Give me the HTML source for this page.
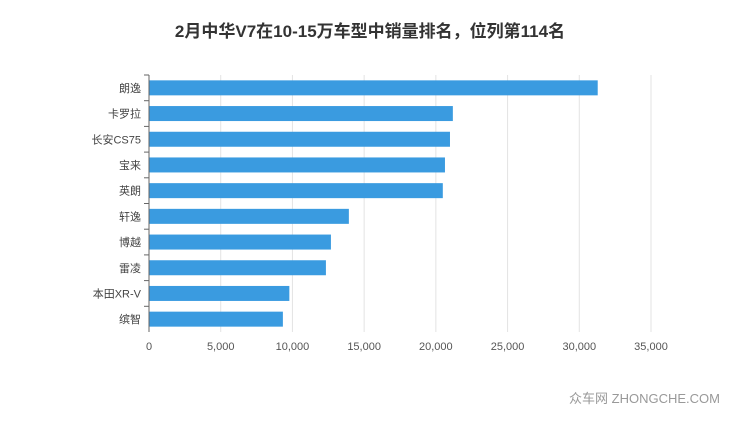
<!DOCTYPE html>
<html><head><meta charset="utf-8"><style>
body{margin:0;background:#fff;width:740px;height:417px;overflow:hidden;font-family:"Liberation Sans","Noto Sans CJK SC",sans-serif}
</style></head><body>
<svg id="chart" width="740" height="417" xmlns="http://www.w3.org/2000/svg">
<text x="370" y="37" text-anchor="middle" font-size="17" font-weight="bold" fill="#333" font-family="Liberation Sans, Noto Sans CJK SC, sans-serif">2月中华V7在10-15万车型中销量排名，位列第114名</text>
<g id="grid"></g><g id="bars"></g><g id="labels"></g>
<text x="720" y="403" text-anchor="end" font-size="13" fill="#999" font-family="Liberation Sans, Noto Sans CJK SC, sans-serif">众车网 ZHONGCHE.COM</text>
</svg>
<script>
const categories=["朗逸","卡罗拉","长安CS75","宝来","英朗","轩逸","博越","雷凌","本田XR-V","缤智"];
const values=[31250,21150,20950,20600,20450,13900,12650,12300,9750,9300];
const ticks=[0,5000,10000,15000,20000,25000,30000,35000];
const tickLabels=["0","5,000","10,000","15,000","20,000","25,000","30,000","35,000"];
const ns="http://www.w3.org/2000/svg";
const x0=149,x1=651,xmax=35000,plotTop=75,plotBottom=332;
const xs=v=>x0+(v/xmax)*(x1-x0);
const band=(plotBottom-plotTop)/categories.length;
const ys=i=>plotTop+band*i+band/2;
function mk(t,a,p){const e=document.createElementNS(ns,t);for(const k in a)e.setAttribute(k,a[k]);p.appendChild(e);return e;}
const g=document.getElementById('grid'),b=document.getElementById('bars'),l=document.getElementById('labels');
ticks.forEach((t,i)=>{
 const ln=mk('line',{x1:xs(t),x2:xs(t),y1:plotTop,y2:plotBottom,stroke:i===0?'#666':'#e3e3e3','stroke-width':1},g);
 
 
 const tx=mk('text',{x:xs(t),y:350,'text-anchor':'middle','font-size':11,fill:'#555'},l);
 tx.textContent=tickLabels[i];
 
 
});
categories.forEach((c,i)=>{
 const r=mk('rect',{x:x0+0.5,y:ys(i)-7.5,width:xs(values[i])-x0,height:15,fill:'#3a9be0'},b);
 
 
 const tx=mk('text',{x:141,y:ys(i)+4,'text-anchor':'end','font-size':11,fill:'#444'},l);
 tx.textContent=c;
 
 
 mk('line',{x1:144,x2:149,y1:plotTop+band*i,y2:plotTop+band*i,stroke:'#666'},g);
});
</script>
</body></html>
